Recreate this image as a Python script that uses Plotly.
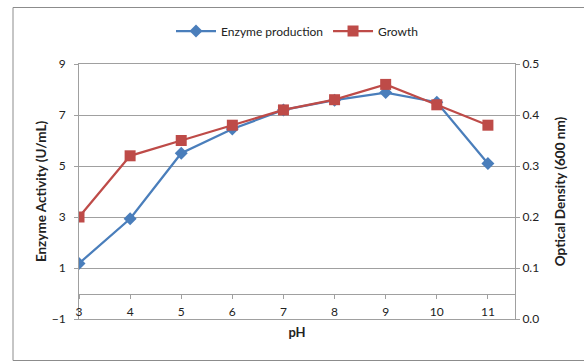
import plotly.graph_objects as go

ph = [3, 4, 5, 6, 7, 8, 9, 10, 11]
enzyme = [1.18, 2.93, 5.5, 6.45, 7.2, 7.58, 7.88, 7.5, 5.1]
growth = [0.20, 0.32, 0.35, 0.38, 0.41, 0.43, 0.46, 0.42, 0.38]
left_ticks = [-1, 1, 3, 5, 7, 9]
right_ticks = [0.0, 0.1, 0.2, 0.3, 0.4, 0.5]

BLUE = "#4A7EBB"
RED = "#BE4B48"
GRID = "#A0A0A0"
FONT = "Lato"
W, H = 584, 362
L, R, T, B = 79, 69, 64, 43

fig = go.Figure()
fig.add_trace(go.Scatter(
    x=ph, y=enzyme, name="Enzyme production", mode="lines+markers",
    line=dict(color=BLUE, width=2.25),
    marker=dict(symbol="diamond", size=10, color=BLUE),
    yaxis="y"))
fig.add_trace(go.Scatter(
    x=ph, y=growth, name="Growth", mode="lines+markers",
    line=dict(color=RED, width=2.25),
    marker=dict(symbol="square", size=11, color=RED),
    yaxis="y2"))
# carrier for the category axis drawn at zero (no visible marks)
fig.add_trace(go.Scatter(
    x=ph, y=[None] * len(ph), xaxis="x2", yaxis="y",
    mode="lines", showlegend=False, hoverinfo="skip"))

pw = W - L - R
ph_px = H - T - B
def px_x(p):
    return (p - L) / pw
def px_y(p):
    return (H - B - p) / ph_px

fig.update_layout(
    width=W, height=H,
    margin=dict(l=L, r=R, t=T, b=B, autoexpand=False),
    paper_bgcolor="white", plot_bgcolor="white",
    font=dict(family=FONT, size=12, color="#222"),
    showlegend=True,
    legend=dict(orientation="h", x=0.5, xanchor="center",
                y=px_y(31), yanchor="middle",
                font=dict(family=FONT, size=12, color="#222"),
                itemwidth=40, bgcolor="rgba(0,0,0,0)"),
    xaxis=dict(
        range=[3, 11.53], tickvals=ph, ticktext=[str(v) for v in ph],
        showgrid=False, zeroline=False,
        showline=True, linecolor=GRID, linewidth=1, mirror=True,
        ticks="", ticklabelposition="inside", ticklabeloverflow="allow",
        tickfont=dict(family=FONT, size=12, color="#222"),
        title=dict(text="<b>pH</b>", font=dict(family=FONT, size=13, color="#222"), standoff=9),
        automargin=False),
    xaxis2=dict(
        overlaying="x", anchor="free", position=0.1, side="bottom",
        range=[3, 11.53], tickvals=ph, showticklabels=False,
        showgrid=False, zeroline=False,
        showline=True, linecolor=GRID, linewidth=1,
        ticks="outside", ticklen=4, tickcolor=GRID),
    yaxis=dict(
        range=[-1, 9], tickvals=left_ticks,
        showgrid=True, gridcolor=GRID, gridwidth=1, zeroline=False,
        showline=True, linecolor=GRID, linewidth=1,
        ticks="outside", ticklen=4, tickcolor=GRID, ticklabelstandoff=6,
        tickfont=dict(family=FONT, size=12, color="#222"),
        title=dict(text="<b>Enzyme Activity (U/mL)</b>",
                   font=dict(family=FONT, size=13.5, color="#222"), standoff=1),
        automargin=False),
    yaxis2=dict(
        overlaying="y", side="right", anchor="x",
        range=[0, 0.5], tickvals=right_ticks, tickformat=".1f",
        showgrid=False, zeroline=False,
        showline=True, linecolor=GRID, linewidth=1,
        ticks="outside", ticklen=4, tickcolor=GRID,
        tickfont=dict(family=FONT, size=12, color="#222"),
        title=dict(text="<b>Optical Density (600 nm)</b>",
                   font=dict(family=FONT, size=13.5, color="#222"), standoff=17),
        automargin=False),
    shapes=[dict(type="rect", xref="paper", yref="paper",
                 x0=px_x(13), x1=px_x(600), y0=px_y(360.5), y1=px_y(7.5),
                 line=dict(color="#8C8C8C", width=1), layer="below")],
)

fig.write_html("out.html")
